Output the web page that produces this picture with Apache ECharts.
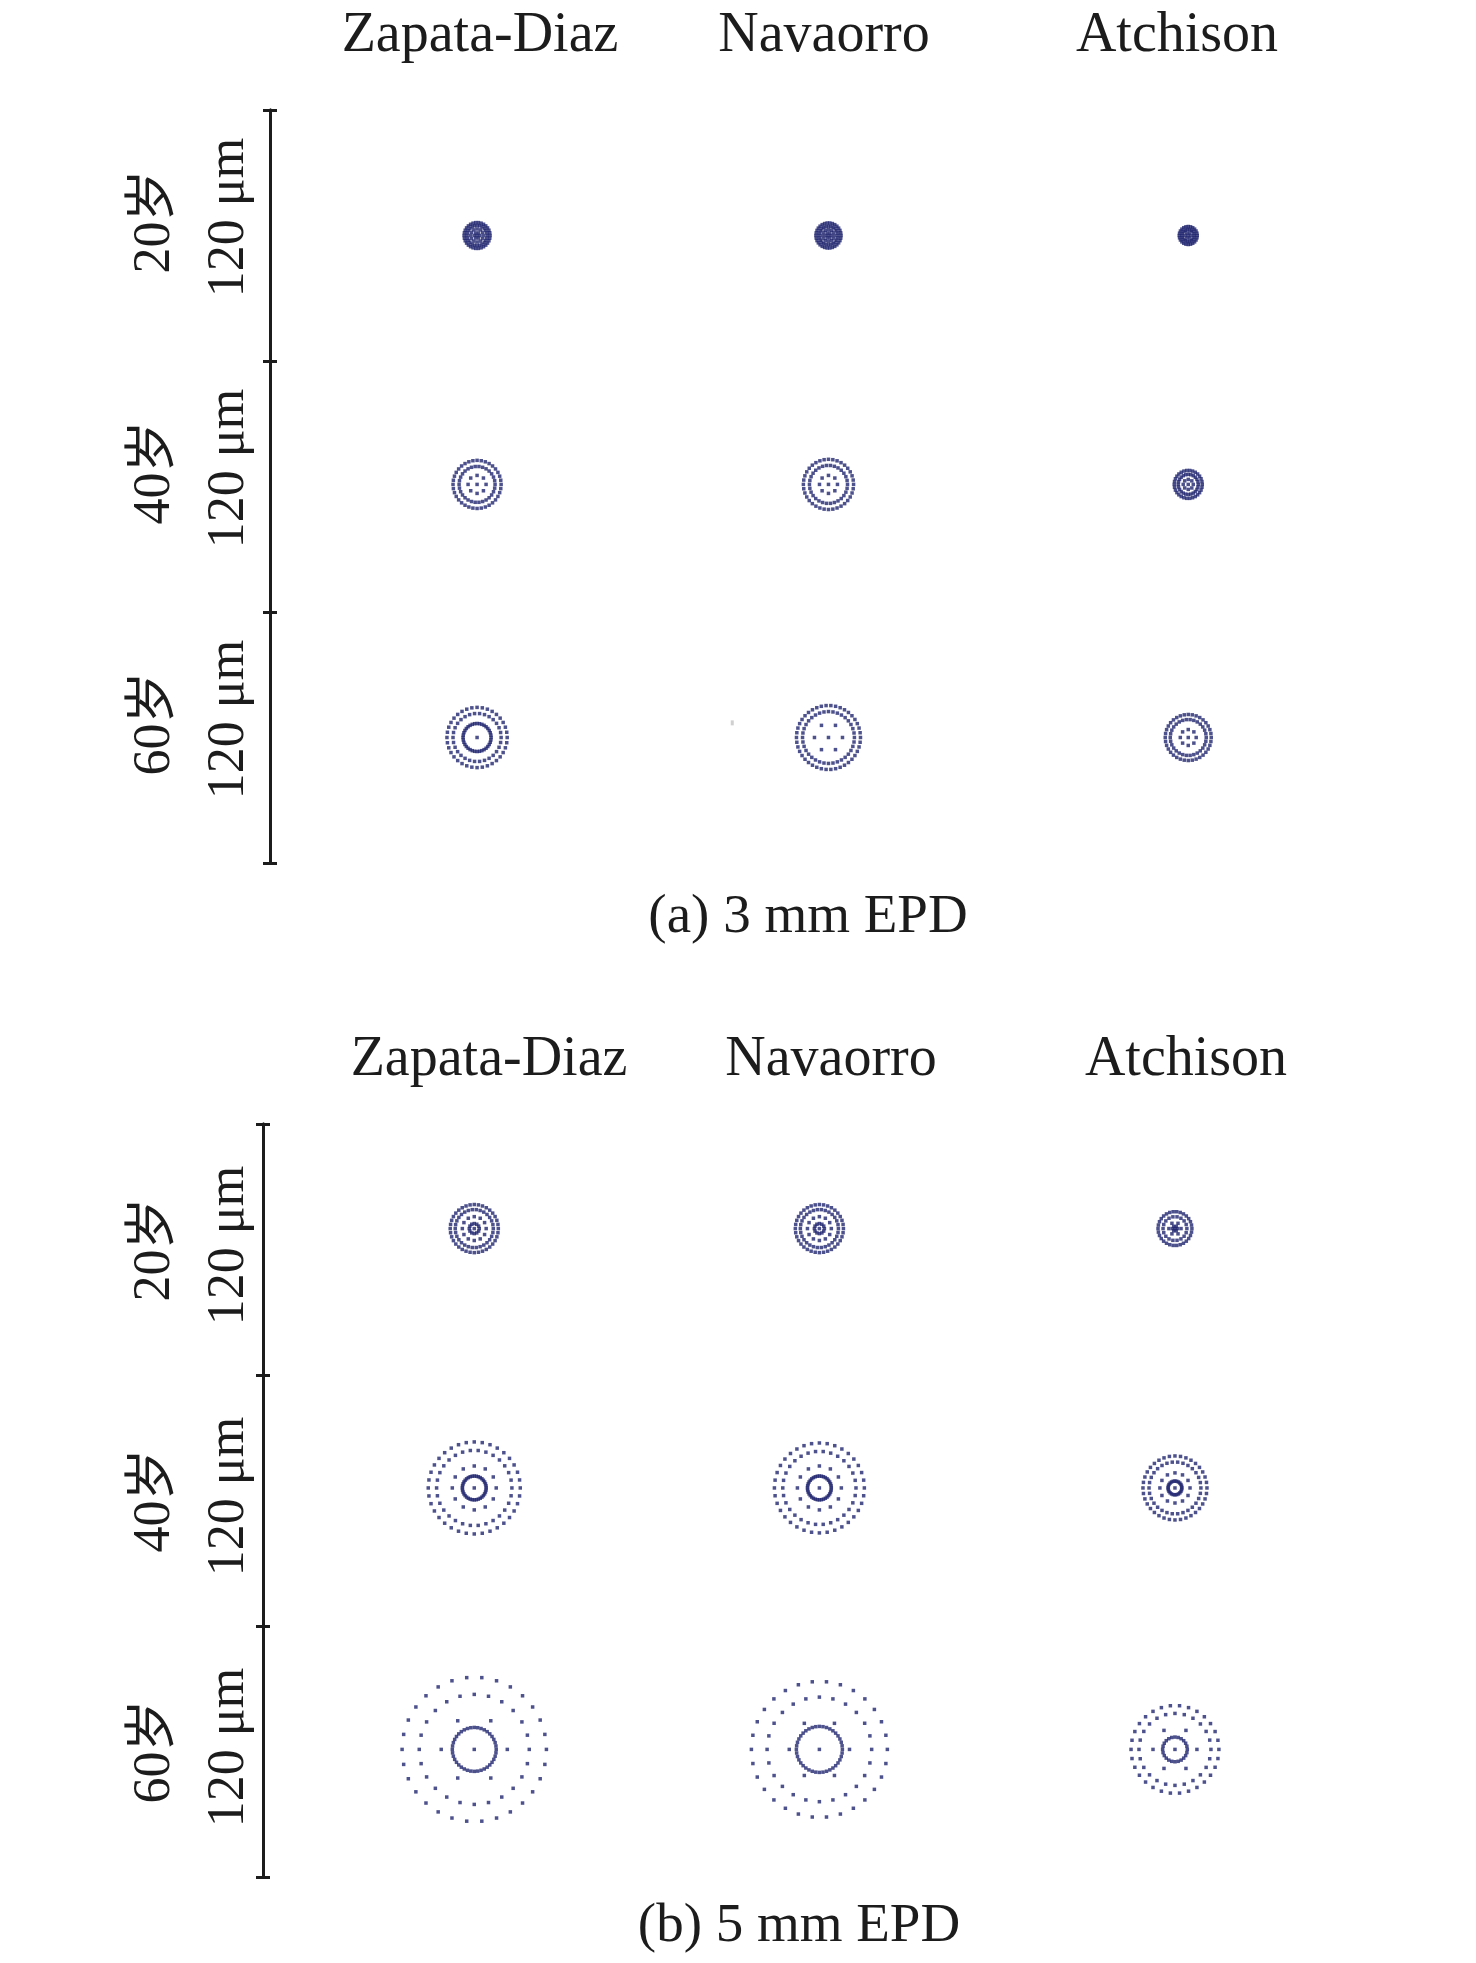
<!DOCTYPE html>
<html>
<head>
<meta charset="utf-8">
<title>Spot diagrams</title>
<script src="https://cdn.jsdelivr.net/npm/echarts@6/dist/echarts.min.js"></script>
<style>
  html, body { margin: 0; padding: 0; background: #fff; }
  #main { width: 1476px; height: 1963px; }
</style>
</head>
<body>
<div id="main"></div>
<script>
var models = ['Zapata-Diaz', 'Navaorro', 'Atchison'];
var ages = ['20岁', '40岁', '60岁'];
var scaleText = '120 μm';
var panelTitles = ['(a) 3 mm EPD', '(b) 5 mm EPD'];
var scaleTicks = [0, 120, 240, 360];

// spot centres in μm: x from the scale bar, y from its lower end
var centerXA = [99, 267, 439];
var centerYA = [300, 181, 60];
var centerXB = [101, 266, 436];
var centerYB = [310, 186, 61];

// each spot = list of rings [radius μm, number of rays]
var rings3mm20 = [
    [[6.2, 30], [4.8, 24], [3.1, 12], [1.4, 6], [0, 1]],
    [[6.0, 30], [4.5, 24], [2.9, 12], [1.4, 6], [0, 1]],
    [[4.3, 24], [2.9, 18], [1.4, 6], [0, 1]]
];
var rings3mm40 = [
    [[11.5, 36], [8.6, 30], [4.3, 8], [0, 1]],
    [[12.0, 36], [9.1, 30], [4.3, 8], [0, 1]],
    [[6.7, 30], [4.8, 24], [2.4, 8], [0, 1]]
];
var rings3mm60 = [
    [[14.4, 36], [11.5, 30], [6.7, 36], [0, 1]],
    [[15.3, 42], [12.4, 36], [6.7, 6], [0, 1]],
    [[11.0, 36], [8.6, 30], [3.8, 8], [0, 1]]
];
var rings5mm20 = [
    [[11.5, 36], [9.1, 30], [5.7, 12], [2.4, 12], [0, 1]],
    [[11.5, 36], [9.1, 30], [5.7, 12], [2.4, 12], [0, 1]],
    [[8.1, 30], [5.7, 18], [2.9, 6], [1.2, 6], [0, 1]]
];
var rings5mm40 = [
    [[22.0, 36], [18.0, 30], [10.5, 12], [5.7, 36], [0, 1]],
    [[21.5, 36], [17.5, 30], [10.5, 12], [5.7, 36], [0, 1]],
    [[15.3, 36], [12.4, 30], [7.2, 12], [3.3, 24], [0, 1]]
];
var rings5mm60 = [
    [[34.5, 30], [26.3, 24], [15.8, 6], [10.5, 40], [0, 1]],
    [[32.5, 30], [25.0, 24], [14.4, 6], [11.0, 40], [0, 1]],
    [[21.0, 30], [17.2, 24], [10.5, 6], [5.9, 24], [0, 1]]
];
// faint stray ray in panel (a)
var strayA = [[221, 67]];

var pxPerUm = 753 / 360;
var ink = '#1c1c1c';
var dotColor = '#20256f';
var serif = '"Liberation Serif", "Times New Roman", "Noto Sans CJK SC", serif';

function spotPoints(cx, cy, rings) {
    var pts = [];
    for (var i = 0; i < rings.length; i++) {
        var r = rings[i][0], n = rings[i][1];
        for (var k = 0; k < n; k++) {
            var a = 2 * Math.PI * k / n;
            pts.push([cx + r * Math.cos(a), cy + r * Math.sin(a)]);
        }
    }
    return pts;
}

function panelData(cxs, cys, rowRings) {
    var out = [];
    for (var row = 0; row < rowRings.length; row++) {
        for (var col = 0; col < models.length; col++) {
            out = out.concat(spotPoints(cxs[col], cys[row], rowRings[row][col]));
        }
    }
    return out;
}

var dataA = panelData(centerXA, centerYA, [rings3mm20, rings3mm40, rings3mm60]);
var dataB = panelData(centerXB, centerYB, [rings5mm20, rings5mm40, rings5mm60]);

var grids = [
    { left: 270, top: 110, width: 540 * pxPerUm, height: 753 },
    { left: 263, top: 1124, width: 540 * pxPerUm, height: 753 }
];

function scaleAxis(gi, inside) {
    return {
        gridIndex: gi, type: 'value', position: 'left', offset: 0,
        min: scaleTicks[0], max: scaleTicks[scaleTicks.length - 1], interval: 120,
        axisLine: { show: true, lineStyle: { color: ink, width: 3 } },
        axisTick: { show: true, inside: inside, length: 7, lineStyle: { color: ink, width: 3 } },
        axisLabel: { show: false },
        splitLine: { show: false }
    };
}

var myChart = echarts.init(document.getElementById('main'), null, { renderer: 'canvas' });

var option = {
    backgroundColor: '#ffffff',
    animation: false,
    grid: grids,
    xAxis: [
        { gridIndex: 0, type: 'value', min: 0, max: 540, show: false },
        { gridIndex: 1, type: 'value', min: 0, max: 540, show: false }
    ],
    yAxis: [scaleAxis(0, false), scaleAxis(0, true), scaleAxis(1, false), scaleAxis(1, true)],
    series: [
        {
            type: 'scatter', xAxisIndex: 0, yAxisIndex: 0,
            symbol: 'rect', symbolSize: 3.5,
            itemStyle: { color: dotColor },
            silent: true,
            data: dataA
        },
        {
            type: 'scatter', xAxisIndex: 0, yAxisIndex: 0,
            symbol: 'rect', symbolSize: [3, 5],
            itemStyle: { color: '#c4c4c4' },
            silent: true,
            data: strayA
        },
        {
            type: 'scatter', xAxisIndex: 1, yAxisIndex: 2,
            symbol: 'rect', symbolSize: 3.5,
            itemStyle: { color: dotColor },
            silent: true,
            data: dataB
        }
    ]
};
myChart.setOption(option);

// headers, row labels and captions
var headerX = [[480, 824, 1177], [489, 831, 1186]];
var headerY = [36, 1060];
var captionPos = [[808, 918], [799, 1927]];
var labelShift = [-14, 0];
var texts = [];

function txt(x, y, s, size, rot) {
    return {
        type: 'text', x: x, y: y, rotation: rot || 0, silent: true,
        style: {
            text: s, fill: ink, font: size + 'px ' + serif,
            textAlign: 'center', textVerticalAlign: 'middle'
        }
    };
}

for (var p = 0; p < 2; p++) {
    for (var c = 0; c < models.length; c++) {
        texts.push(txt(headerX[p][c], headerY[p], models[c], 56));
    }
    for (var r = 0; r < ages.length; r++) {
        var lo = scaleTicks[2 - r], hi = scaleTicks[3 - r];
        var yPx = myChart.convertToPixel({ yAxisIndex: p * 2 }, (lo + hi) / 2) + labelShift[p];
        texts.push(txt(155, yPx, ages[r], 52, Math.PI / 2));
        texts.push(txt(229, yPx - 4, scaleText, 52, Math.PI / 2));
    }
    texts.push(txt(captionPos[p][0], captionPos[p][1], panelTitles[p], 55));
}

myChart.setOption({ graphic: { elements: texts } });
</script>
</body>
</html>
